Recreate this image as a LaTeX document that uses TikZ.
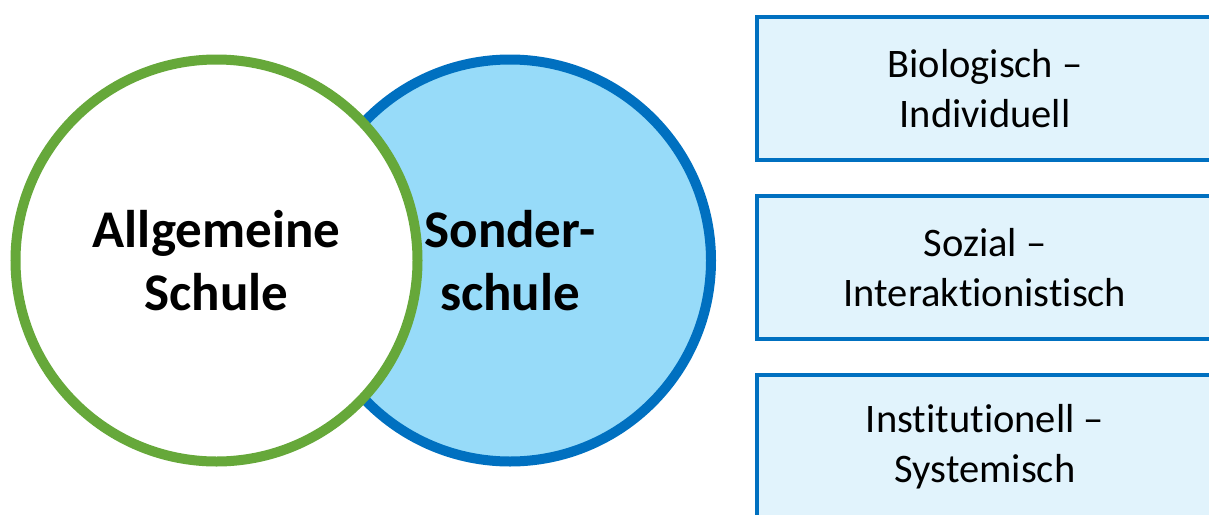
\documentclass[tikz,border=0pt]{standalone}
\usepackage{fontspec}
\setmainfont{Carlito}[Ligatures=NoCommon]
\usepackage{xcolor}
\usetikzlibrary{positioning}
\definecolor{schulgreen}{HTML}{66A83A}
\definecolor{sonderblue}{HTML}{0070C0}
\definecolor{sonderfill}{HTML}{97DBF9}
\definecolor{boxfill}{HTML}{E1F3FC}
\tikzset{
	kreis/.style={circle,line width=10pt,minimum size=\rk,inner sep=0pt,align=center,
		font=\fontsize{53}{63}\selectfont\bfseries},
	sicht/.style={rectangle,draw=sonderblue,fill=boxfill,line width=4pt,outer sep=0pt,
		minimum width=456pt,minimum height=143pt,align=center,
		font=\fontsize{40.5}{50}\selectfont}
}
\begin{document}
\begin{tikzpicture}[x=1pt,y=-1pt]
		\def\rk{402pt}
		\useasboundingbox (0,0) rectangle (1209,514);
		\clip (0,0) rectangle (1209,514);
		\node [kreis,draw=sonderblue,fill=sonderfill] (sonder) at (510,260.5) {Sonder-\\schule};
		\node [kreis,draw=schulgreen,fill=white] (allg) at (216.5,260.5) {Allgemeine\\Schule};
		\node [sicht] (bio) at (985,88.5) {Biologisch --\\Individuell};
		\node [sicht,below=36pt of bio] (sozial) {Sozial --\\Interaktionistisch};
		\node [sicht,below=36pt of sozial] (inst) {Institutionell --\\Systemisch};
	\end{tikzpicture}
\end{document}
